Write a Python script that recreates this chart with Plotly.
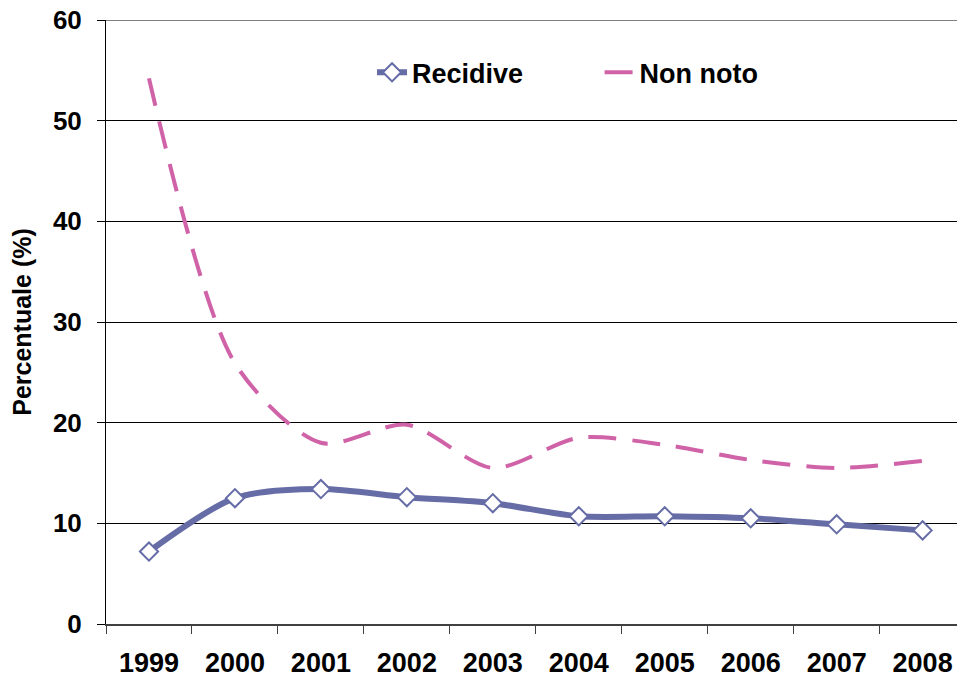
import plotly.graph_objects as go

years = ["1999", "2000", "2001", "2002", "2003", "2004", "2005", "2006", "2007", "2008"]
recidive = [7.2, 12.5, 13.4, 12.6, 12.0, 10.7, 10.7, 10.5, 9.9, 9.3]
non_noto = [54.2, 25.9, 18.0, 19.8, 15.5, 18.5, 17.8, 16.3, 15.5, 16.2]
y_ticks = [0, 10, 20, 30, 40, 50, 60]

FONT = "Arial, Liberation Sans, sans-serif"
BLUE = "#666CA6"
PINK = "#D062A8"

fig = go.Figure()
fig.add_trace(go.Scatter(
    x=years, y=recidive, name="Recidive", mode="lines+markers",
    line=dict(color=BLUE, width=6, shape="spline", smoothing=0.8),
    marker=dict(symbol="diamond", size=14, color="white",
                line=dict(color=BLUE, width=2)),
    legend="legend",
))
fig.add_trace(go.Scatter(
    x=years, y=non_noto, name="Non noto", mode="lines",
    line=dict(color=PINK, width=4, dash="28px,16px", shape="spline", smoothing=0.8),
    legend="legend2",
))

fig.add_shape(type="line", xref="paper", yref="y", x0=0, x1=1, y0=60, y1=60,
              line=dict(color="#808080", width=2), layer="above")

legend_font = dict(size=27, family=FONT, weight="bold", color="black")

fig.update_layout(
    width=957, height=678,
    margin=dict(l=106, r=0, t=20, b=51),
    paper_bgcolor="white", plot_bgcolor="white",
    font=dict(family=FONT, color="black"),
    showlegend=True,
    legend=dict(orientation="h", x=0.3126, y=0.9127, xanchor="left", yanchor="middle",
                font=legend_font, bgcolor="rgba(0,0,0,0)"),
    legend2=dict(orientation="h", x=0.580, y=0.9127, xanchor="left", yanchor="middle",
                 font=legend_font, bgcolor="rgba(0,0,0,0)"),
    xaxis=dict(
        type="category", range=[-0.5, 9.4],
        tickson="boundaries", ticks="outside", ticklen=8, tickcolor="#404040",
        showline=True, linecolor="#404040", linewidth=2,
        showgrid=False, ticklabelstandoff=14,
        tickfont=dict(size=27, family=FONT, weight="bold"),
    ),
    yaxis=dict(
        range=[0, 60], tickvals=y_ticks, ticks="outside", ticklen=8, tickcolor="black",
        showline=True, linecolor="black", linewidth=1,
        showgrid=True, gridcolor="black", gridwidth=1, zeroline=False,
        ticklabelstandoff=10,
        tickfont=dict(size=26, family=FONT, weight="bold"),
        title=dict(text="Percentuale (%)", standoff=14,
                   font=dict(size=25, family=FONT, weight="bold")),
    ),
)

fig.write_html("out.html", config={"displayModeBar": False},
               post_script="document.body.style.margin='0';document.body.style.padding='0';")
